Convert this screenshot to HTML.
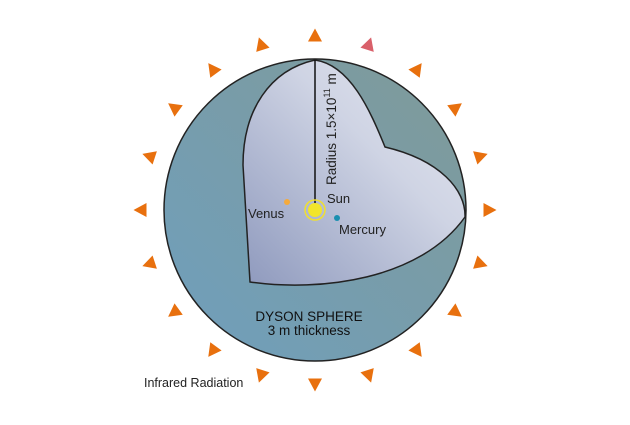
<!DOCTYPE html>
<html><head><style>body{margin:0;background:#fff}</style></head><body>
<svg width="630" height="420" viewBox="0 0 630 420" xmlns="http://www.w3.org/2000/svg" font-family="Liberation Sans, sans-serif">
<defs>
<linearGradient id="sh" x1="0" y1="1" x2="1" y2="0">
<stop offset="0" stop-color="#6f9fbd"/><stop offset="1" stop-color="#809a98"/></linearGradient>
<linearGradient id="in" x1="0" y1="1" x2="1" y2="0">
<stop offset="0" stop-color="#8e99bd"/><stop offset="0.6" stop-color="#cfd4e4"/><stop offset="1" stop-color="#e6e8f0"/></linearGradient>
<polygon id="t" points="0,-7.5 7,5.5 -7,5.5" fill="#e8700e"/>
</defs>
<circle cx="315" cy="210" r="151" fill="url(#sh)" stroke="#222" stroke-width="1.5"/>
<path d="M315,60 C270,70 243,110 243,165 L250,282 C320,292 420,280 465,217 C466,190 440,160 385,147 C370,110 350,65 315,60 Z" fill="url(#in)" stroke="#222" stroke-width="1.5"/>
<line x1="315" y1="60" x2="315" y2="205" stroke="#111" stroke-width="1.5"/>
<text transform="translate(336,185) rotate(-90)" font-size="13.5" fill="#222">Radius 1.5×10<tspan font-size="9" dy="-6">11</tspan><tspan dy="6"> m</tspan></text>
<circle cx="315" cy="210" r="10" fill="none" stroke="#f0e030" stroke-width="1.5"/>
<circle cx="315" cy="210" r="7" fill="#f2e52a"/>
<circle cx="287" cy="202" r="3" fill="#f5aa3c"/>
<circle cx="337" cy="218" r="3" fill="#1a8fb0"/>
<text x="327" y="203" font-size="13" fill="#222">Sun</text>
<text x="248" y="218" font-size="13" fill="#222">Venus</text>
<text x="339" y="234" font-size="13" fill="#222">Mercury</text>
<text x="309" y="321" font-size="13.5" fill="#111" text-anchor="middle">DYSON SPHERE</text>
<text x="309" y="335" font-size="13.5" fill="#111" text-anchor="middle">3 m thickness</text>
<text x="144" y="387" font-size="12.5" fill="#222">Infrared Radiation</text>
<use href="#t" transform="translate(315,36) rotate(0)"/>
<polygon points="0,-7.5 7,5.5 -7,5.5" fill="#d9606a" transform="translate(368.8,44.5) rotate(18)"/>
<use href="#t" transform="translate(417.3,69.2) rotate(36)"/>
<use href="#t" transform="translate(455.8,107.7) rotate(54)"/>
<use href="#t" transform="translate(480.5,156.2) rotate(72)"/>
<use href="#t" transform="translate(489,210) rotate(90)"/>
<use href="#t" transform="translate(480.5,263.8) rotate(108)"/>
<use href="#t" transform="translate(455.8,312.3) rotate(126)"/>
<use href="#t" transform="translate(417.3,350.8) rotate(144)"/>
<use href="#t" transform="translate(368.8,375.5) rotate(162)"/>
<use href="#t" transform="translate(315,384) rotate(180)"/>
<use href="#t" transform="translate(261.2,375.5) rotate(198)"/>
<use href="#t" transform="translate(212.7,350.8) rotate(216)"/>
<use href="#t" transform="translate(174.2,312.3) rotate(234)"/>
<use href="#t" transform="translate(149.5,263.8) rotate(252)"/>
<use href="#t" transform="translate(141,210) rotate(270)"/>
<use href="#t" transform="translate(149.5,156.2) rotate(288)"/>
<use href="#t" transform="translate(174.2,107.7) rotate(306)"/>
<use href="#t" transform="translate(212.7,69.2) rotate(324)"/>
<use href="#t" transform="translate(261.2,44.5) rotate(342)"/>
</svg>
</body></html>
